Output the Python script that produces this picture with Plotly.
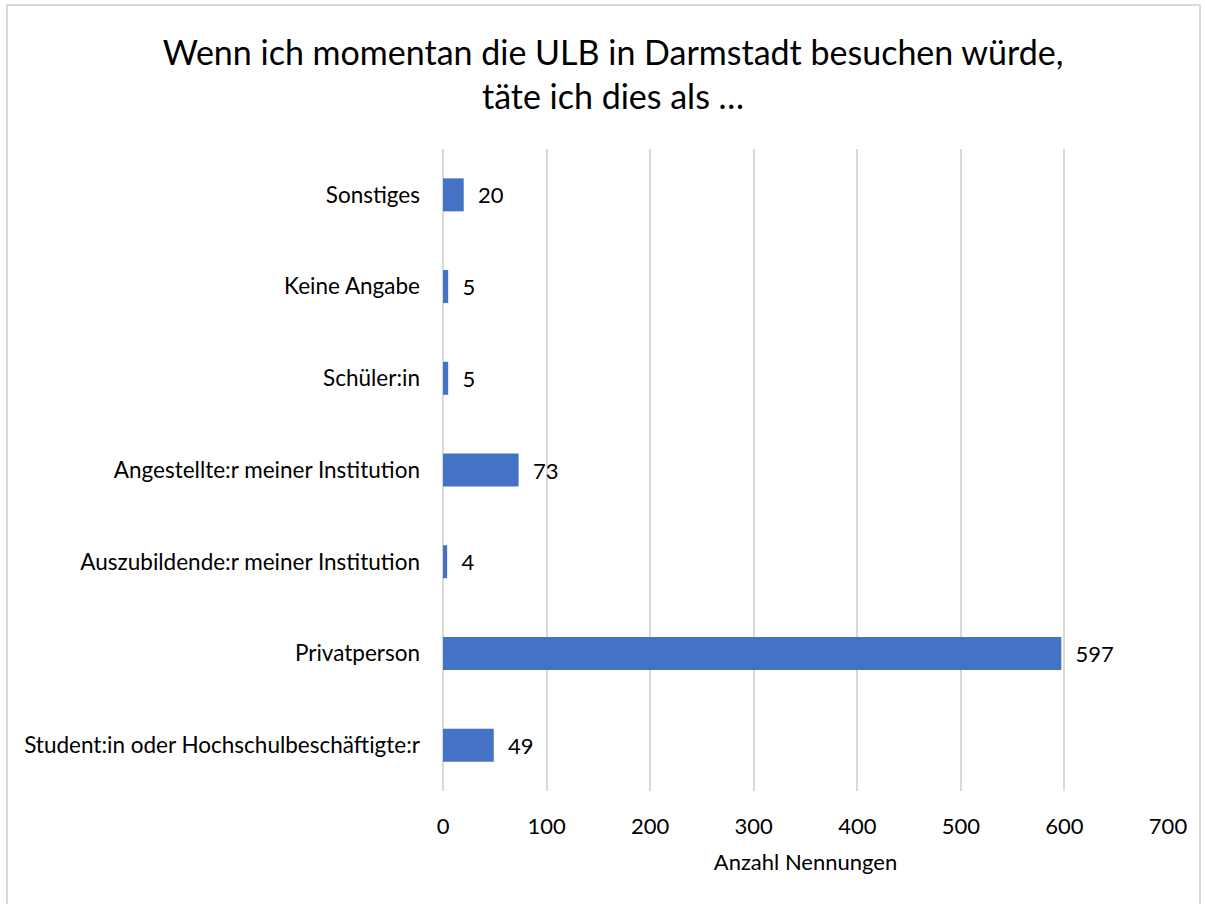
import plotly.graph_objects as go

categories = [
    "Student:in oder Hochschulbeschäftigte:r",
    "Privatperson",
    "Auszubildende:r meiner Institution",
    "Angestellte:r meiner Institution",
    "Schüler:in",
    "Keine Angabe",
    "Sonstiges",
]
values = [49, 597, 4, 73, 5, 5, 20]
x_ticks = [0, 100, 200, 300, 400, 500, 600, 700]
title_text = "Wenn ich momentan die ULB in Darmstadt besuchen würde,<br>täte ich dies als …"
x_title = "Anzahl Nennungen"

FONT = "Lato"
W, H = 1205, 904
L, R, T, B = 443, 37, 149, 113
pw, ph = W - L - R, H - T - B

def px_x(p):
    return (p - L) / pw

def px_y(p):
    return (H - B - p) / ph

fig = go.Figure(
    go.Bar(
        x=values,
        y=categories,
        orientation="h",
        marker=dict(color="#4472C4", line=dict(width=0)),
        width=0.36,
        text=["\u00a0\u00a0" + str(v) for v in values],
        textposition="outside",
        textfont=dict(family=FONT, size=22, color="#000000"),
        cliponaxis=False,
    )
)

fig.update_layout(
    width=W,
    height=H,
    margin=dict(l=L, r=R, t=T, b=B),
    paper_bgcolor="white",
    plot_bgcolor="white",
    showlegend=False,
    font=dict(family=FONT, size=22, color="#000000"),
    title=dict(
        text=title_text,
        x=613 / W,
        xanchor="center",
        xref="container",
        y=1 - 65 / H,
        yanchor="middle",
        yref="container",
        font=dict(family=FONT, size=34, color="#000000"),
    ),
    xaxis=dict(
        range=[0, 700],
        tickvals=x_ticks,
        ticktext=[str(t) for t in x_ticks],
        showgrid=True,
        gridcolor="#D9D9D9",
        gridwidth=2,
        zeroline=True,
        zerolinecolor="#D9D9D9",
        zerolinewidth=2,
        showline=False,
        ticks="",
        ticklen=0,
        ticklabelstandoff=20,
        tickfont=dict(family=FONT, size=22),
        title=dict(text=x_title, font=dict(family=FONT, size=22), standoff=16),
    ),
    yaxis=dict(
        categoryorder="array",
        categoryarray=categories,
        showgrid=False,
        zeroline=False,
        showline=False,
        ticks="",
        ticklabelstandoff=22,
        tickfont=dict(family=FONT, size=22.5),
    ),
    shapes=[
        dict(
            type="rect",
            xref="paper",
            yref="paper",
            x0=px_x(7),
            x1=px_x(1200),
            y0=px_y(912),
            y1=px_y(5),
            line=dict(color="#D9D9D9", width=2),
            fillcolor="rgba(0,0,0,0)",
            layer="below",
        )
    ],
)

fig.write_html(
    "out.html",
    config={"displayModeBar": False},
    post_script="document.body.style.margin='0';document.body.style.overflow='hidden';",
)
